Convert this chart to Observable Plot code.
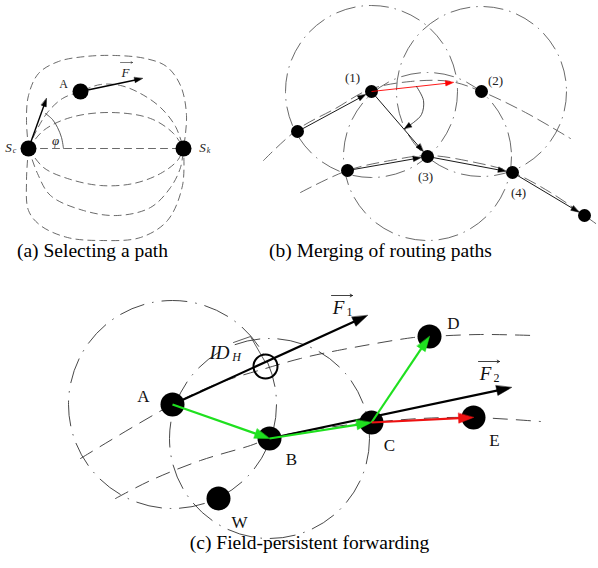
<!DOCTYPE html>
<html><head><meta charset="utf-8">
<script src="https://cdn.jsdelivr.net/npm/d3@7"></script>
<script src="https://cdn.jsdelivr.net/npm/@observablehq/plot@0.6"></script>
<style>body{margin:0;background:#fff}</style>
</head><body><div id="chart"></div>
<script>
// ---------- Panel (a): selecting a path ----------
const aNodes = [
  {id: "Sc", x: 28, y: 148},
  {id: "Sk", x: 183, y: 148},
  {id: "A", x: 80, y: 91}
];
const aFieldLines = [
  [[28,148],[26,120],[28,95],[38,73],[58,61],[85,56],[115,55],[145,58],[166,66],[180,85],[186,115],[183,148]],
  [[28,148],[36,130],[47,112],[62,98],[80,91],[100,84],[120,85],[140,93],[160,107],[175,126],[183,148]],
  [[28,148],[43,130],[70,117],[110,112],[150,118],[173,133],[183,148]],
  [[28,148],[183,148]],
  [[28,148],[43,167],[67,178],[100,185],[133,183],[160,173],[177,160],[183,148]],
  [[28,148],[37,173],[50,195],[83,210],[117,215],[150,207],[170,187],[180,167],[183,148]],
  [[28,148],[26,180],[28,210],[40,225],[67,237],[100,240],[140,237],[167,220],[182,185],[183,148]]
];
const aArrows = [
  {x1: 80, y1: 91, x2: 142, y2: 78},
  {x1: 28, y1: 148, x2: 46, y2: 98}
];
const aAngleArc = [[63,148],[61,137],[57,127],[52,119],[45,113]];
const aPlainLabels = [{text: "A", x: 63, y: 84}];
const aMathLabels = [
  {text: "S", x: 8, y: 147, sub: "c"},
  {text: "S", x: 202, y: 147, sub: "k"},
  {text: "F", x: 125, y: 72, vec: true},
  {text: "φ", x: 55, y: 140}
];

// ---------- Panel (b): merging of routing paths ----------
const bNodes = [
  {id: "n0", x: 297, y: 131},
  {id: "1", x: 371, y: 91},
  {id: "2", x: 481, y: 91},
  {id: "3", x: 427, y: 156},
  {id: "4", x: 512, y: 172},
  {id: "n5", x: 347, y: 170},
  {id: "n6", x: 584, y: 215}
];
const bRanges = [{id: "1", r: 86}, {id: "2", r: 85}, {id: "3", r: 84}];
const bPaths = [
  [[263,160],[297,129],[335,108],[369,89],[410,81],[450,81],[481,91],[525,112],[570,138]],
  [[300,192],[347,170],[390,160],[427,155],[470,161],[512,172],[550,192],[584,215],[598,225]]
];
const bArrows = [
  {from: "n0", to: "1", color: "black"},
  {from: "1", to: "3", color: "black"},
  {from: "n5", to: "3", color: "black"},
  {from: "3", to: "4", color: "black"},
  {from: "4", to: "n6", color: "black"},
  {from: "1", tx: 453, ty: 82, color: "red"}
];
const bTurn = [[416,86],[423,100],[421,114],[413,122],[404,128]];
const bLabels = [
  {text: "(1)", x: 352, y: 77},
  {text: "(2)", x: 495, y: 80},
  {text: "(3)", x: 425, y: 176},
  {text: "(4)", x: 518, y: 192}
];

// ---------- Panel (c): field-persistent forwarding ----------
const cNodes = [
  {id: "A", x: 172, y: 404},
  {id: "B", x: 269, y: 438},
  {id: "C", x: 371, y: 422},
  {id: "D", x: 429, y: 336},
  {id: "E", x: 473, y: 417},
  {id: "W", x: 218, y: 498}
];
const cRanges = [{id: "A", r: 104}, {id: "B", r: 100}];
const cHole = [{x: 265, y: 366}];
const cLeader = [[233,342],[250,336],[265,362]];
const cPaths = [
  [[80,458],[172,404],[220,382],[265,368],[300,358],[337,350],[413,337],[429,336],[480,334],[533,335]],
  [[115,498],[150,480],[200,460],[250,445],[269,438],[320,428],[371,422],[420,418],[473,417],[540,421]]
];
const cArrows = [
  {from: "A", tx: 367, ty: 315, color: "black"},
  {from: "B", tx: 511, ty: 387, color: "black"},
  {from: "A", to: "B", color: "#1fe01f"},
  {from: "B", to: "C", color: "#1fe01f"},
  {from: "C", to: "D", color: "#1fe01f"},
  {from: "C", to: "E", color: "#ee1111"}
];
const cLabels = [
  {text: "A", x: 143, y: 396},
  {text: "B", x: 291, y: 459},
  {text: "C", x: 389, y: 445},
  {text: "D", x: 453, y: 323},
  {text: "E", x: 494, y: 440},
  {text: "W", x: 239, y: 522}
];
const cMath = [
  {text: "F", x: 338, y: 307, sub: "1", vec: true},
  {text: "F", x: 485, y: 373, sub: "2", vec: true},
  {text: "ID", x: 219, y: 352, sub: "H", vec: false}
];

const captions = [
  {text: "(a) Selecting a path", x: 92, y: 250},
  {text: "(b) Merging of routing paths", x: 380, y: 250},
  {text: "(c) Field-persistent forwarding", x: 309, y: 542}
];

// ---------- helpers (derive geometry from the data above) ----------
const serif = "Liberation Serif";
function lookup(nodes) { return Object.fromEntries(nodes.map(n => [n.id, n])); }
function toRows(paths) {
  return paths.flatMap((p, i) => p.map(([x, y]) => ({id: i, x, y})));
}
function buildArrows(specs, nodes, headL, headW, tipInset) {
  const N = lookup(nodes);
  const shafts = [], heads = [];
  specs.forEach((s, i) => {
    const a = N[s.from];
    const tgt = s.to ? N[s.to] : null;
    const tx = tgt ? tgt.x : s.tx, ty = tgt ? tgt.y : s.ty;
    const dx = tx - a.x, dy = ty - a.y, len = Math.hypot(dx, dy);
    const ux = dx / len, uy = dy / len;
    const inset = tgt ? tipInset : 0;
    const px = tx - ux * inset, py = ty - uy * inset;
    const bx = px - ux * headL, by = py - uy * headL;
    shafts.push({x1: a.x, y1: a.y, x2: px - ux * headL * 0.6, y2: py - uy * headL * 0.6, color: s.color});
    heads.push({id: i, x: px, y: py, color: s.color});
    heads.push({id: i, x: bx - uy * headW, y: by + ux * headW, color: s.color});
    heads.push({id: i, x: bx + uy * headW, y: by - ux * headW, color: s.color});
  });
  return {shafts, heads};
}
function pathHead(pts, headL, headW) {
  const [x0, y0] = pts[pts.length - 2], [x1, y1] = pts[pts.length - 1];
  const dx = x1 - x0, dy = y1 - y0, len = Math.hypot(dx, dy);
  const ux = dx / len, uy = dy / len;
  const bx = x1 - ux * headL, by = y1 - uy * headL;
  return [
    {id: 0, x: x1, y: y1},
    {id: 0, x: bx - uy * headW, y: by + ux * headW},
    {id: 0, x: bx + uy * headW, y: by - ux * headW}
  ];
}

const aArr = buildArrows(
  aArrows.map((d, i) => ({from: "s" + i, tx: d.x2, ty: d.y2, color: "black"})),
  aArrows.map((d, i) => ({id: "s" + i, x: d.x1, y: d.y1})), 8, 2.6, 0);
const bArr = buildArrows(bArrows, bNodes, 8, 2.6, 6.5);
const cArr = buildArrows(cArrows, cNodes, 15, 5, 0);

const bN = lookup(bNodes), cN = lookup(cNodes);
const bCircles = bRanges.map(d => ({x: bN[d.id].x, y: bN[d.id].y, r: d.r}));
const cCircles = cRanges.map(d => ({x: cN[d.id].x, y: cN[d.id].y, r: d.r}));

// subscripts and vector arrows placed relative to their symbols
const aSubs = aMathLabels.filter(d => d.sub).map(d => ({text: d.sub, x: d.x + 6, y: d.y + 3}));
const vecA = aMathLabels.filter(d => d.vec).map(d => ({x1: d.x - 5, x2: d.x + 7, y: d.y - 10}));
const cSubsUp = cMath.filter(d => d.sub !== "H").map(d => ({text: d.sub, x: d.x + 11, y: d.y + 5}));
const cSubsIt = cMath.filter(d => d.sub === "H").map(d => ({text: d.sub, x: d.x + 17, y: d.y + 5}));
const vecC = cMath.filter(d => d.vec).map(d => ({x1: d.x - 7, x2: d.x + 14, y: d.y - 12}));

const chart = Plot.plot({
  width: 598, height: 568, margin: 0,
  x: {domain: [0, 598], range: [0, 598], axis: null},
  y: {domain: [0, 568], range: [0, 568], axis: null},
  r: {type: "identity"},
  style: {background: "white"},
  marks: [
    // ----- (a)
    Plot.line(toRows(aFieldLines), {x: "x", y: "y", z: "id", curve: "catmull-rom",
      stroke: "#444", strokeWidth: 0.8, strokeDasharray: "7,5"}),
    Plot.line(aAngleArc.map(([x, y]) => ({x, y})), {x: "x", y: "y", curve: "catmull-rom", stroke: "#333", strokeWidth: 0.8}),
    Plot.dot(aNodes, {x: "x", y: "y", r: 8, fill: "black"}),
    Plot.link(aArr.shafts, {x1: "x1", y1: "y1", x2: "x2", y2: "y2", stroke: "black", strokeWidth: 1.4}),
    Plot.line(aArr.heads, {x: "x", y: "y", z: "id", curve: "linear-closed", fill: "black", stroke: "black", strokeWidth: 0.5}),
    Plot.text(aPlainLabels, {x: "x", y: "y", text: "text", fontSize: 12, fontFamily: serif, fill: "#222"}),
    Plot.text(aMathLabels, {x: "x", y: "y", text: "text", fontSize: 13, fontStyle: "italic", fontFamily: serif, fill: "#222"}),
    Plot.text(aSubs, {x: "x", y: "y", text: "text", fontSize: 8, fontStyle: "italic", fontFamily: serif, fill: "#222"}),
    Plot.arrow(vecA, {x1: "x1", x2: "x2", y1: "y", y2: "y", headLength: 4, stroke: "#222", strokeWidth: 0.6}),

    // ----- (b)
    Plot.dot(bCircles, {x: "x", y: "y", r: "r", fill: "none", stroke: "#444", strokeWidth: 0.8, strokeDasharray: "20,6,1.5,6"}),
    Plot.line(toRows(bPaths), {x: "x", y: "y", z: "id", curve: "catmull-rom", stroke: "#444", strokeWidth: 0.8, strokeDasharray: "12,6"}),
    Plot.dot(bNodes, {x: "x", y: "y", r: 6.5, fill: "black"}),
    Plot.link(bArr.shafts, {x1: "x1", y1: "y1", x2: "x2", y2: "y2", stroke: "color", strokeWidth: 0.9}),
    Plot.line(bArr.heads, {x: "x", y: "y", z: "id", curve: "linear-closed", fill: "color", stroke: "color", strokeWidth: 0.5}),
    Plot.line(bTurn.map(([x, y]) => ({x, y})), {x: "x", y: "y", curve: "catmull-rom", stroke: "#222", strokeWidth: 0.8}),
    Plot.line(pathHead(bTurn, 7, 2.6), {x: "x", y: "y", z: "id", curve: "linear-closed", fill: "black", stroke: "black", strokeWidth: 0.5}),
    Plot.text(bLabels, {x: "x", y: "y", text: "text", fontSize: 13, fontFamily: serif, fill: "#222"}),

    // ----- (c)
    Plot.dot(cCircles, {x: "x", y: "y", r: "r", fill: "none", stroke: "#333", strokeWidth: 0.9, strokeDasharray: "26,8,1.5,8"}),
    Plot.line(toRows(cPaths), {x: "x", y: "y", z: "id", curve: "catmull-rom", stroke: "#333", strokeWidth: 0.9, strokeDasharray: "14,9"}),
    Plot.line(cLeader.map(([x, y]) => ({x, y})), {x: "x", y: "y", stroke: "#333", strokeWidth: 0.8}),
    Plot.dot(cNodes, {x: "x", y: "y", r: 12, fill: "black"}),
    Plot.dot(cHole, {x: "x", y: "y", r: 12, fill: "none", stroke: "black", strokeWidth: 2}),
    Plot.link(cArr.shafts, {x1: "x1", y1: "y1", x2: "x2", y2: "y2", stroke: "color", strokeWidth: 2.2}),
    Plot.line(cArr.heads, {x: "x", y: "y", z: "id", curve: "linear-closed", fill: "color", stroke: "color", strokeWidth: 0.5}),
    Plot.text(cLabels, {x: "x", y: "y", text: "text", fontSize: 17, fontFamily: serif, fill: "#111"}),
    Plot.text(cMath, {x: "x", y: "y", text: "text", fontSize: 19, fontStyle: "italic", fontFamily: serif, fill: "#111"}),
    Plot.text(cSubsUp, {x: "x", y: "y", text: "text", fontSize: 12, fontFamily: serif, fill: "#111"}),
    Plot.text(cSubsIt, {x: "x", y: "y", text: "text", fontSize: 12, fontStyle: "italic", fontFamily: serif, fill: "#111"}),
    Plot.arrow(vecC, {x1: "x1", x2: "x2", y1: "y", y2: "y", headLength: 5, stroke: "#111", strokeWidth: 0.8}),

    // ----- captions
    Plot.text(captions, {x: "x", y: "y", text: "text", fontSize: 19.5, fontFamily: serif, fill: "#000"})
  ]
});
document.getElementById("chart").appendChild(chart);
</script>
</body></html>
